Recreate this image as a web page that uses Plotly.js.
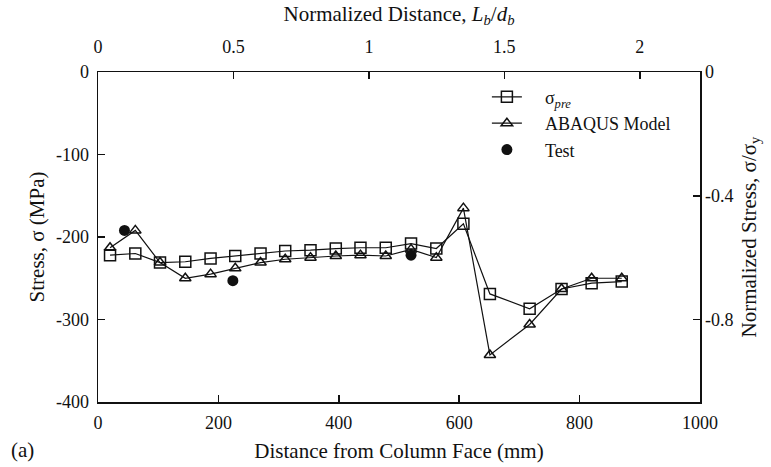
<!DOCTYPE html>
<html>
<head>
<meta charset="utf-8">
<script src="https://cdn.plot.ly/plotly-3.0.1.min.js"></script>
<style>html,body{margin:0;padding:0;background:#fff;}#chart{width:771px;height:467px;}</style>
</head>
<body>
<div id="chart"></div>
<script>
// Distance from column face (mm)
const distance = [20, 62, 103, 145, 187, 228, 270, 311, 353, 395, 436, 478, 520, 562, 607, 651, 717, 770, 820, 870];
// sigma_pre (MPa)
const sigmaPre = [-222, -220, -231, -230, -226, -223, -220, -217, -216, -214, -213, -213, -208, -214, -184, -269, -287, -263, -256, -254];
// ABAQUS model (MPa)
const abaqus = [-213, -192, -231, -250, -245, -238, -231, -227, -225, -223, -222, -223, -215, -225, -165, -343, -306, -263, -250, -250];
// Test
const testDistance = [44, 224, 520];
const testStress = [-192, -253, -222];

const beamDepth = 450;   // d_b (mm) for top axis
const yieldStress = 375; // sigma_y (MPa) for right axis
const bottomTicks = [0, 200, 400, 600, 800, 1000];
const leftTicks = [0, -100, -200, -300, -400];
const leftTickText = ['0', '-100', '-200', '-300', '-400'];
const topTicks = [0, 0.5, 1, 1.5, 2];
const topTickText = ['0', '0.5', '1', '1.5', '2'];
const rightTicks = [0, -0.4, -0.8];
const rightTickText = ['0', '-0.4', '-0.8'];

const fam = '"Liberation Serif", "Times New Roman", serif';
const tickFont = {family: fam, color: '#111', size: 18};
const titleFont = {family: fam, color: '#111', size: 21};
const legendFont = {family: fam, color: '#111', size: 18};
const pad = '\u00a0\u00a0\u00a0\u00a0';

const traces = [
  {x: distance, y: sigmaPre, mode: 'lines+markers', name: pad + 'σ<sub><i>pre</i></sub>',
   line: {color: '#111', width: 1.2},
   marker: {symbol: 'square-open', size: 11, color: '#111', line: {width: 1.5}}},
  {x: distance, y: abaqus, mode: 'lines+markers', name: pad + 'ABAQUS Model',
   line: {color: '#111', width: 1.2},
   marker: {symbol: 'triangle-up-open', size: 10, color: '#111', line: {width: 1.5}}},
  {x: testDistance, y: testStress, mode: 'markers', name: pad + 'Test',
   marker: {symbol: 'circle', size: 11, color: '#111'}},
  {x: [], y: [], xaxis: 'x2', yaxis: 'y2', showlegend: false, hoverinfo: 'skip', mode: 'markers'}
];

const axisCommon = {
  showgrid: false, zeroline: false, showline: true, linecolor: '#111', linewidth: 1.5,
  ticks: 'inside', ticklen: 7, tickwidth: 1.5, tickcolor: '#111', tickfont: tickFont
};

const layout = {
  width: 771, height: 467,
  margin: {l: 98, r: 71, t: 72, b: 65},
  paper_bgcolor: '#fff', plot_bgcolor: '#fff',
  font: tickFont,
  showlegend: true,
  legend: {x: 0.646, y: 0.98, xanchor: 'left', yanchor: 'top', bgcolor: 'rgba(0,0,0,0)',
           font: legendFont, tracegroupgap: 0},
  xaxis: Object.assign({}, axisCommon, {
    range: [0, 1000], tickvals: bottomTicks,
    ticklabelstandoff: 4,
    title: {text: 'Distance from Column Face (mm)', font: titleFont, standoff: 11}
  }),
  yaxis: Object.assign({}, axisCommon, {
    range: [-400, 0], tickvals: leftTicks, ticktext: leftTickText,
    ticklabelstandoff: 4,
    title: {text: 'Stress, σ (MPa)', font: titleFont, standoff: 5}
  }),
  xaxis2: Object.assign({}, axisCommon, {
    overlaying: 'x', side: 'top', anchor: 'y',
    range: [0, 1000 / beamDepth], tickvals: topTicks, ticktext: topTickText,
    ticklabelstandoff: 10,
    title: {text: 'Normalized Distance, <i>L<sub>b</sub></i>/<i>d<sub>b</sub></i>', font: titleFont, standoff: 10}
  }),
  yaxis2: Object.assign({}, axisCommon, {
    overlaying: 'y', side: 'right', anchor: 'x',
    range: [-400 / yieldStress, 0], tickvals: rightTicks, ticktext: rightTickText,
    title: {text: 'Normalized Stress, σ/σ<sub>y</sub>', font: titleFont, standoff: 8}
  }),
  annotations: [
    {text: '(a)', xref: 'paper', yref: 'paper', x: -0.148, y: -0.145, xanchor: 'left', yanchor: 'middle',
     showarrow: false, font: titleFont}
  ]
};

Plotly.newPlot('chart', traces, layout, {displayModeBar: false, staticPlot: true});
</script>
</body>
</html>
